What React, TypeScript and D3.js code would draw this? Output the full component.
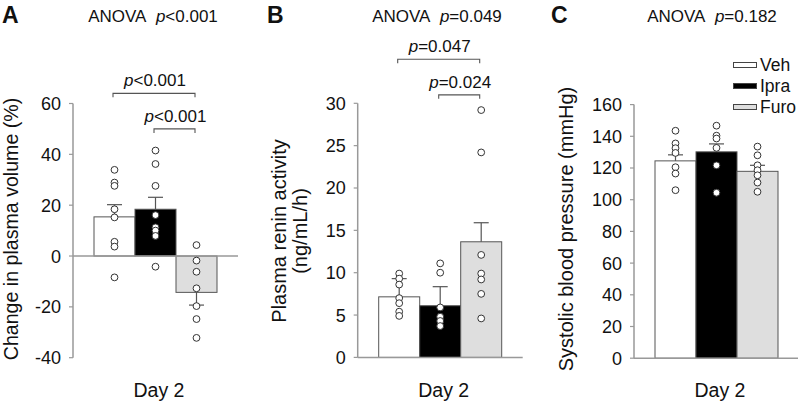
import React from "react";
import * as d3 from "d3";

const groups = ["Veh", "Ipra", "Furo"];
const groupFills = ["#ffffff", "#000000", "#dedede"];

// Panel A: change in plasma volume (%)
const pvMeans = [15.4, 18.4, -14.3];
const pvSem = [4.8, 4.7, -5.0];
const pvPoints = [
  [33.9, 28.9, 27.6, 18.4, 15.2, 5.6, 3.7, -8.4],
  [41.5, 36.2, 27.6, 16.1, 11.3, 10.0, 7.9, -4.2],
  [4.3, -1.8, -6.2, -12.7, -19.7, -24.8, -32.2],
];
const pvTicks = [-40, -20, 0, 20, 40, 60];

// Panel B: plasma renin activity (ng/mL/h)
const praMeans = [7.15, 6.1, 13.65];
const praSem = [2.15, 2.25, 2.25];
const praPoints = [
  [9.9, 9.3, 8.6, 7.0, 6.4, 5.4, 4.9],
  [11.1, 10.0, 5.9, 4.8, 4.3, 3.7],
  [29.2, 24.2, 12.1, 9.9, 9.2, 7.5, 4.6],
];
const praTicks = [0, 5, 10, 15, 20, 25, 30];

// Panel C: systolic blood pressure (mmHg)
const sbpMeans = [124.5, 130.2, 117.9];
const sbpSem = [3.8, 5.0, 3.8];
const sbpPoints = [
  [143.5, 135.5, 132.5, 129.5, 120.5, 116.5, 106],
  [146.7, 140.4, 138.6, 132.7, 121.7, 104.4],
  [133.5, 128, 121.7, 118.6, 115.4, 110.8, 105],
];
const sbpTicks = [0, 20, 40, 60, 80, 100, 120, 140, 160];

const FONT = "'Liberation Sans', Arial, Helvetica, sans-serif";

type Bracket = { from: number; to: number; y: number; label: string; op: string };

type PanelProps = {
  letter: string;
  letterX: number;
  anova: string;
  anovaOp: string;
  anovaX: number;
  x0: number;
  domain: [number, number];
  range: [number, number];
  ticks: number[];
  means: number[];
  sem: number[];
  points: number[][];
  labelLines: string[];
  labelX: number;
  labelY: number;
  labelSize: number;
  brackets: Bracket[];
};

function PText({ op, value, x, y, size, anchor }: { op: string; value: string; x: number; y: number; size: number; anchor: string }) {
  return (
    <text x={x} y={y} fontSize={size} textAnchor={anchor} fontFamily={FONT} fill="#111">
      <tspan fontStyle="italic">p</tspan>
      <tspan>{op + value}</tspan>
    </text>
  );
}

function Panel(p: PanelProps) {
  const y = d3.scaleLinear().domain(p.domain).range(p.range);
  const x = d3
    .scaleBand<string>()
    .domain(groups)
    .range([p.x0 + 21, p.x0 + 144])
    .padding(0);
  const axisRight = p.x0 + 165;
  const bw = x.bandwidth();
  const cx = (g: string) => (x(g) as number) + bw / 2;
  return (
    <g>
      <text x={p.letterX} y={23} fontSize={23} fontWeight="bold" fontFamily={FONT} fill="#111">
        {p.letter}
      </text>
      <text x={p.anovaX} y={22} fontSize={17} textAnchor="middle" fontFamily={FONT} fill="#111">
        <tspan>{"ANOVA\u00a0\u00a0"}</tspan>
        <tspan fontStyle="italic">p</tspan>
        <tspan>{p.anovaOp}</tspan>
      </text>
      {/* bars */}
      {groups.map((g, i) => {
        const y0 = y(0);
        const ym = y(p.means[i]);
        return (
          <rect
            key={g}
            x={x(g)}
            y={Math.min(y0, ym)}
            width={bw}
            height={Math.abs(y0 - ym)}
            fill={groupFills[i]}
            stroke="#555"
            strokeWidth={1}
          />
        );
      })}
      {/* error bars */}
      {groups.map((g, i) => {
        const ym = y(p.means[i]);
        const ye = y(p.means[i] + p.sem[i]);
        const c = cx(g);
        return (
          <g key={g} stroke="#555" strokeWidth={1.2}>
            <line x1={c} x2={c} y1={ym} y2={ye} />
            <line x1={c - 7.5} x2={c + 7.5} y1={ye} y2={ye} />
          </g>
        );
      })}
      {/* axes */}
      <line x1={p.x0} x2={p.x0} y1={y(p.domain[0])} y2={y(p.domain[1])} stroke="#999" strokeWidth={1.5} />
      <line x1={p.x0} x2={axisRight} y1={y(0)} y2={y(0)} stroke="#999" strokeWidth={1.5} />
      {p.ticks.map((t) => (
        <g key={t}>
          <line x1={p.x0 - 4} x2={p.x0} y1={y(t)} y2={y(t)} stroke="#999" strokeWidth={1.2} />
          <text
            x={p.x0 - 12}
            y={y(t)}
            dy="0.36em"
            fontSize={18}
            textAnchor="end"
            fontFamily={FONT}
            fill="#111"
          >
            {t}
          </text>
        </g>
      ))}
      {/* points */}
      {groups.map((g, i) =>
        p.points[i].map((v, j) => (
          <circle key={g + j} cx={cx(g)} cy={y(v)} r={3.4} fill="#fff" stroke="#333" strokeWidth={1} />
        ))
      )}
      {/* brackets */}
      {p.brackets.map((b, k) => {
        const x1 = cx(groups[b.from]) - 1.5;
        const x2 = cx(groups[b.to]) - 1.5;
        const yy = y(b.y);
        return (
          <g key={k}>
            <path
              d={`M${x1},${yy + 4}V${yy}H${x2}V${yy + 4}`}
              fill="none"
              stroke="#555"
              strokeWidth={1.1}
            />
            <PText op={b.op} value={b.label} x={(x1 + x2) / 2 + 1} y={yy - 7} size={17} anchor="middle" />
          </g>
        );
      })}
      {/* y label */}
      <text
        transform={`translate(${p.labelX},${p.labelY}) rotate(-90)`}
        fontSize={p.labelSize}
        textAnchor="middle"
        fontFamily={FONT}
        fill="#111"
      >
        {p.labelLines.map((l, k) => (
          <tspan key={k} x={0} dy={k === 0 ? 0 : 21.5}>
            {l}
          </tspan>
        ))}
      </text>
      <text x={p.x0 + 86} y={397} fontSize={19.5} textAnchor="middle" fontFamily={FONT} fill="#111">
        Day 2
      </text>
    </g>
  );
}

const legendY = [65, 86, 107];

export default function App() {
  return (
    <svg
      width={798}
      height={405}
      viewBox="0 0 798 405"
      style={{ position: "absolute", left: 0, top: 0, background: "#fff" }}
    >
      <rect width={798} height={405} fill="#fff" />
      <Panel
        letter="A"
        letterX={2}
        anova="ANOVA"
        anovaOp="<0.001"
        anovaX={153}
        x0={73}
        domain={[-40, 60]}
        range={[357.7, 103.5]}
        ticks={pvTicks}
        means={pvMeans}
        sem={pvSem}
        points={pvPoints}
        labelLines={["Change in plasma volume (%)"]}
        labelX={17.5}
        labelY={229}
        labelSize={19.6}
        brackets={[
          { from: 0, to: 2, y: 64, op: "<", label: "0.001" },
          { from: 1, to: 2, y: 50, op: "<", label: "0.001" },
        ]}
      />
      <Panel
        letter="B"
        letterX={267}
        anova="ANOVA"
        anovaOp="=0.049"
        anovaX={437}
        x0={357.7}
        domain={[0, 30]}
        range={[357.4, 103.3]}
        ticks={praTicks}
        means={praMeans}
        sem={praSem}
        points={praPoints}
        labelLines={["Plasma renin activity", "(ng/mL/h)"]}
        labelX={285.5}
        labelY={231}
        labelSize={20}
        brackets={[
          { from: 0, to: 2, y: 35.2, op: "=", label: "0.047" },
          { from: 1, to: 2, y: 31, op: "=", label: "0.024" },
        ]}
      />
      <Panel
        letter="C"
        letterX={551}
        anova="ANOVA"
        anovaOp="=0.182"
        anovaX={712}
        x0={634}
        domain={[0, 160]}
        range={[358.2, 104.6]}
        ticks={sbpTicks}
        means={sbpMeans}
        sem={sbpSem}
        points={sbpPoints}
        labelLines={["Systolic blood pressure (mmHg)"]}
        labelX={572.5}
        labelY={229}
        labelSize={20}
        brackets={[]}
      />
      {groups.map((g, i) => (
        <g key={g}>
          <rect x={733.5} y={legendY[i] - 2.5} width={23} height={5} fill={groupFills[i]} stroke="#444" strokeWidth={1} />
          <text x={760} y={legendY[i]} dy="0.36em" fontSize={17.5} fontFamily={FONT} fill="#111">
            {g}
          </text>
        </g>
      ))}
    </svg>
  );
}
